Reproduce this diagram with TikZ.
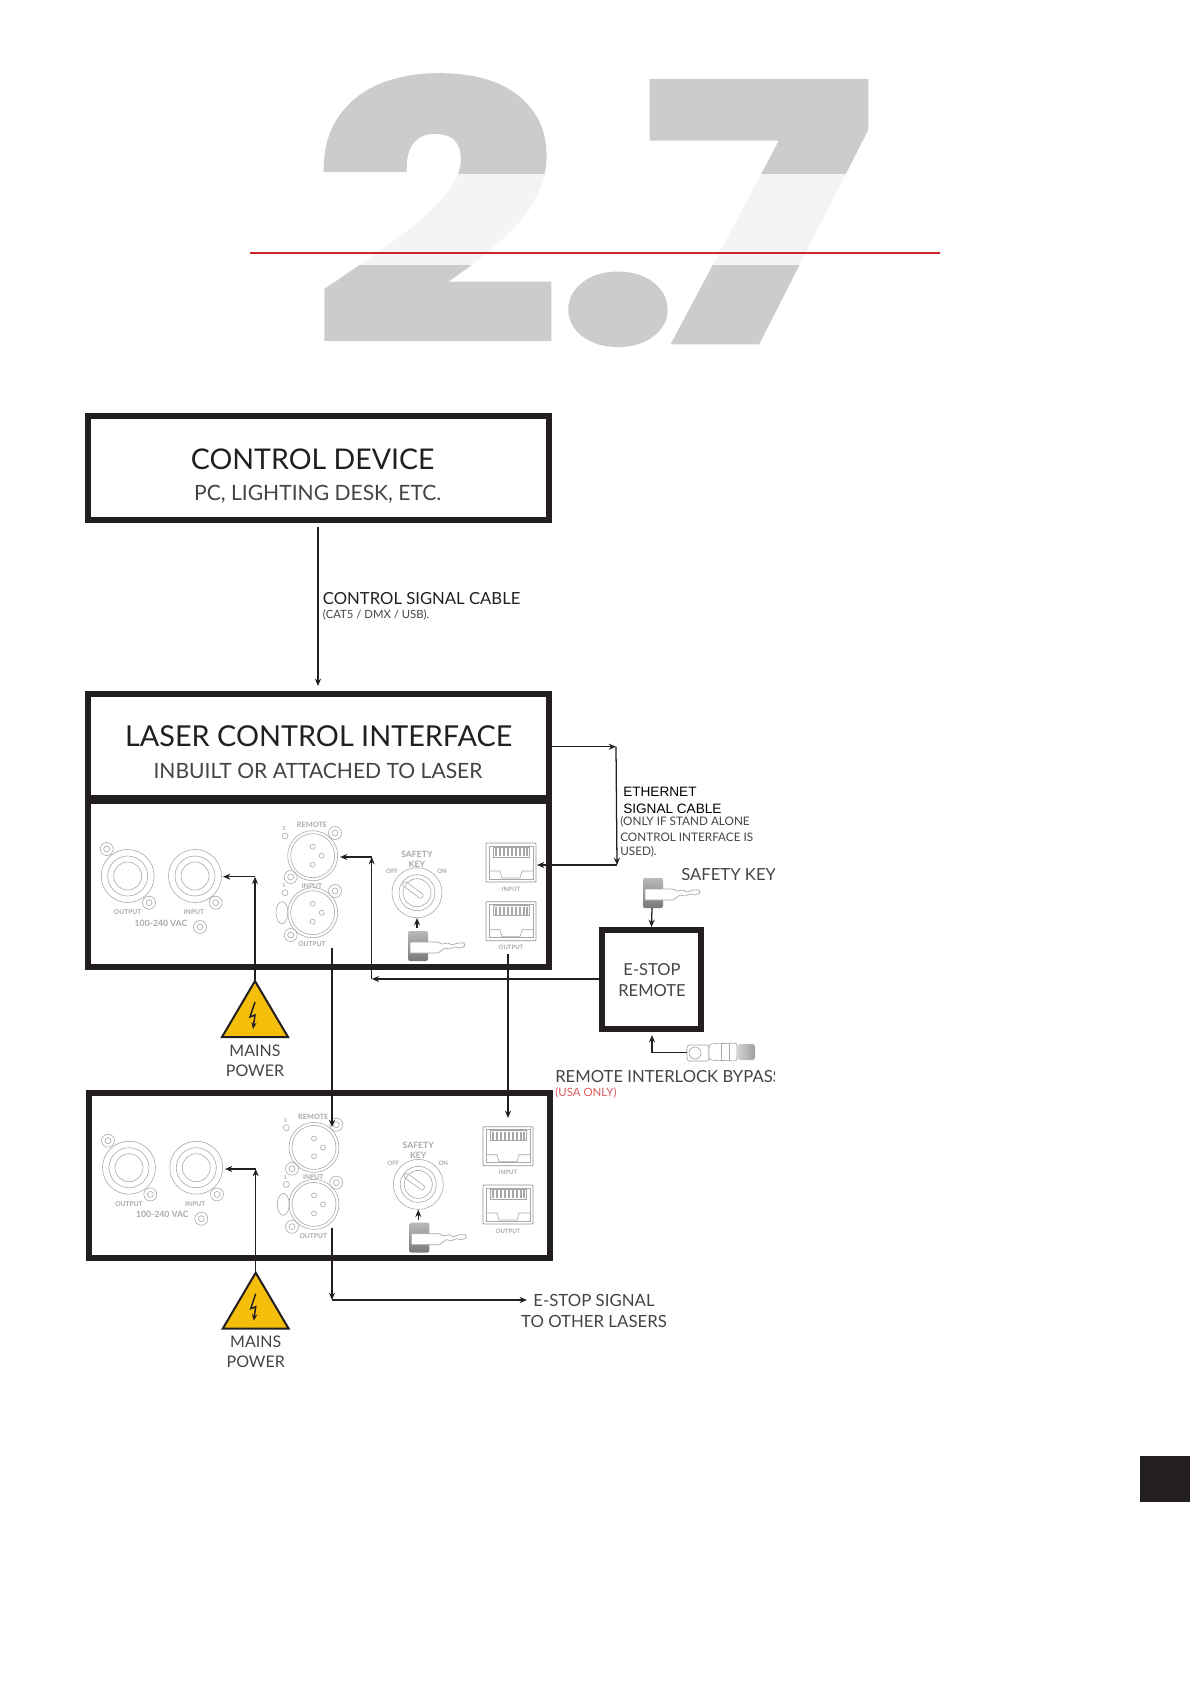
\documentclass[tikz,border=0pt]{standalone}
\usepackage{fontspec}
\setmainfont{Lato}
\newfontfamily\titlefont{Poppins}
\newfontfamily\arialfont{Liberation Sans}
\usetikzlibrary{arrows.meta, calc}
\definecolor{inkdark}{HTML}{231F20}
\definecolor{inksub}{HTML}{444444}
\definecolor{panelgrey}{HTML}{A8A8A8}
\definecolor{titlegrey}{HTML}{CCCCCC}
\definecolor{titlepale}{HTML}{F4F4F4}
\definecolor{rulered}{HTML}{D2232A}
\definecolor{warnyellow}{HTML}{F4BE0A}
\newcommand{\numeraltext}{\scalebox{1.22}[1]{\addfontfeature{FakeBold=3}2\kern0pt.\kern-20.7pt 7}}
\tikzset{
  frame/.style={draw=inkdark, line width=4.5pt, fill=none, inner sep=0pt},
  lab/.style={inner sep=0pt, text=inkdark, font=\fontsize{#1}{#1}\selectfont},
  sublab/.style={inner sep=0pt, text=inksub, font=\fontsize{#1}{#1}\selectfont},
  eth/.style={inner sep=0pt, text=black, font=\arialfont\fontsize{#1}{#1}\selectfont},
  tiny/.style={inner sep=0pt, text=panelgrey, font=\bfseries\fontsize{#1}{#1}\selectfont},
  numeral/.style={inner sep=0pt, anchor=base west, font=\titlefont\bfseries\fontsize{262}{262}\selectfont},
  cable/.style={draw=inkdark, line width=0.95pt},
  part/.style={draw=panelgrey, line width=0.45pt},
  pics/screw/.style={code={
    \draw[part] (0,0) circle (6.5);
    \draw[part] (0,0) circle (3);
  }},
  pics/neutrik/.style={code={
    \draw[part] (0,0) circle (26.5);
    \draw[part] (0,0) circle (20);
    \draw[part] (0,0) circle (14);
  }},
  pics/xlr/.style={code={
    \draw[part] (0,0) circle (25);
    \draw[part] (0,0) circle (22);
    \draw[part] (0,-9) circle (2.5);
    \draw[part] (9,0) circle (2.5);
    \draw[part] (0,9) circle (2.5);
  }},
  pics/carkey/.style={code={
    \shade[top color=gray!55, bottom color=gray!95!black, rounded corners=1.5pt] (0,0) rectangle (20,30);
    \draw[gray!70, fill=white, line width=0.5pt] (2,11) -- (30,11) -- (34,13) -- (40,12) -- (44,14) -- (50,12) -- (56,12) -- (57,15)
      -- (52,17) -- (47,16) -- (42,18) -- (37,17) -- (30,22) -- (2,22) -- cycle;
  }},
  pics/rjport/.style={code={
    \draw[draw=gray!85, line width=0.6pt, rounded corners=0.6pt] (0,0) rectangle (50,39);
    \draw[part] (3,3) -- (47,3) -- (47,36) -- (3,36) -- cycle;
    \draw[part] (7,4) rectangle (43,14);
    \foreach \xpin in {10,14,18,22,26,30,34,38,41} \draw[part, line width=0.8pt] (\xpin,5) -- (\xpin,13);
    \draw[part] (3,28) -- (14,28) -- (16,35) -- (34,35) -- (36,28) -- (47,28);
    \node[tiny=4.5] (-name) at (25,46) {#1};
  }},
  pics/plug/.style={code={
    \draw[gray!70, fill=white, line width=0.5pt, rounded corners=2pt] (0,3) rectangle (22,19);
    \draw[gray!70, fill=white, line width=0.5pt, rounded corners=2pt] (22,2) -- (50,1) -- (50,19) -- (22,18) -- cycle;
    \shade[left color=gray!35, right color=gray!75, rounded corners=2pt] (50,2) rectangle (68,18);
    \draw[gray!70, line width=0.5pt] (8,11) circle (6);
    \draw[gray!70, line width=0.5pt] (34,1) -- (34,19) (42,1) -- (42,19);
  }},
  pics/hazard/.style={code={
    \coordinate (-apex) at (0,0);
    \draw[fill=warnyellow, draw=inkdark, line width=1.5pt, line join=miter] (0,1) -- (33,57) -- (-33,57) -- cycle;
    \draw[inkdark, line width=1.1pt, -{Stealth[length=5pt,width=4pt]}] (0,22) -- (-5,37) -- (0,35) -- (-2,49);
  }},
  pics/laserpanel/.style={code={
    \pic at (127.7,876) {neutrik};
    \pic at (195,876) {neutrik};
    \pic at (106.7,849) {screw};
    \pic at (149,902.7) {screw};
    \pic at (215.7,902.7) {screw};
    \pic at (200,927) {screw};
    \node[tiny=5] (-outac) at (127.7,912) {OUTPUT};
    \node[tiny=5] (-inac) at (194,912) {INPUT};
    \node[tiny=6.5] (-vac) at (161,923) {100-240 VAC};
    \pic at (312.7,855.7) {xlr};
    \pic at (312.7,912.7) {xlr};
    \pic at (335,833) {screw};
    \pic at (290.7,877) {screw};
    \pic at (335,891) {screw};
    \pic at (290.7,935) {screw};
    \draw[part] (282,912.7) ellipse (6 and 11);
    \draw[part] (285,836) circle (3);
    \draw[part] (285,892.7) circle (3);
    \node[tiny=4] (-two) at (284,829) {2};
    \node[tiny=4] (-one) at (284,885.7) {1};
    \node[tiny=5.5] (-remote) at (312,825) {REMOTE};
    \node[tiny=5] (-inxlr) at (312,885.7) {INPUT};
    \node[tiny=5] (-outxlr) at (312,944) {OUTPUT};
    \draw[part] (417,892.7) circle (25);
    \draw[part] (417,892.7) circle (18);
    \draw[part] (417,892.7) circle (14);
    \draw[part, rounded corners=1pt] (402,885) -- (405,881) -- (424,895) -- (421,899) -- cycle;
    \node[tiny=6.5] (-safety) at (417,854) {SAFETY};
    \node[tiny=6.5] (-keyname) at (417,864) {KEY};
    \node[tiny=4.5] (-off) at (392,871.7) {OFF};
    \node[tiny=4.5] (-on) at (442,871.7) {ON};
    \pic at (408,931) {carkey};
    \draw[cable, ->] (417,928) -- (417,918);
  }},
}
\begin{document}
\begin{tikzpicture}[>={Stealth[length=5.5pt,width=4.5pt]}, x=0.75pt, y=-0.75pt]
  \useasboundingbox (0,0) rectangle (1191,1684);

  % section number, pale where the band crosses it
  \begin{scope}
    \clip (200,50) rectangle (1000,174);
    \node[numeral, text=titlegrey] (numtop) at (314,339) {\numeraltext};
  \end{scope}
  \begin{scope}
    \clip (200,174) rectangle (1000,265);
    \node[numeral, text=titlepale] (numband) at (314,339) {\numeraltext};
  \end{scope}
  \begin{scope}
    \clip (200,265) rectangle (1000,370);
    \node[numeral, text=titlegrey] (numlow) at (314,339) {\numeraltext};
  \end{scope}
  \coordinate (ruleL) at (250,252.5);
  \coordinate (ruleR) at (940,252.5);
  \draw[rulered, line width=1.5pt] (ruleL) -- (ruleR);

  % boxes
  \node[frame, minimum width=345.75pt, minimum height=78pt] (ctrlbox) at (318.5,468) {};
  \node[frame, minimum width=345.75pt, minimum height=78pt] (ifacebox) at (318.5,746) {};
  \node[frame, minimum width=345.75pt, minimum height=124pt] (laserA) at (318.5,884) {};
  \node[frame, minimum width=345.75pt, minimum height=124pt] (laserB) at (319.5,1175.5) {};
  \node[frame, minimum width=74.25pt, minimum height=74.25pt] (estop) at (651.5,979.5) {};

  \node[lab=21.4] (ctrltitle) at (312.7,459.5) {CONTROL DEVICE};
  \node[sublab=15.8] (ctrlsub) at (317.7,494) {PC, LIGHTING DESK, ETC.};
  \node[lab=21.6] (ifacetitle) at (318.7,736.5) {LASER CONTROL INTERFACE};
  \node[sublab=15.8] (ifacesub) at (318,770.5) {INBUILT OR ATTACHED TO LASER};
  \node[lab=12.5, anchor=west] (cablelab) at (322.7,599) {CONTROL SIGNAL CABLE};
  \node[sublab=8.5, anchor=west] (cablesub) at (322.7,615) {(CAT5 / DMX / USB).};
  \node[sublab=12.4] (estopA) at (652,970) {E-STOP};
  \node[sublab=12.4] (estopB) at (652,990.7) {REMOTE};

  % panels
  \pic (panelA) at (0,0) {laserpanel};
  \pic (panelB) at (1.3,291.7) {laserpanel};
  \pic (rjAin) at (486,843) {rjport={INPUT}};
  \pic (rjAout) at (486,901.7) {rjport={OUTPUT}};
  \pic (rjBin) at (483,1126.7) {rjport={INPUT}};
  \pic (rjBout) at (483,1185) {rjport={OUTPUT}};

  % control and ethernet cables
  \draw[cable, ->] (318,527) -- (318,686);
  \coordinate (ethbendA) at (616,746.7);
  \coordinate (ethbendB) at (617,865);
  \coordinate (ethin) at (537,865);
  \draw[cable, ->] (ifacebox.east |- ethbendA) -- (ethbendA);
  \draw[cable, ->] (ethbendA) -- (ethbendB);
  \draw[cable, ->] (ethbendB) -- (ethin);
  \node[eth=10.2, anchor=west] (ethA) at (623,792) {ETHERNET};
  \node[eth=10.2, anchor=west] (ethB) at (623,808.7) {SIGNAL CABLE};
  \node[sublab=8.8, anchor=west] (ethC) at (620,822) {(ONLY IF STAND ALONE};
  \node[sublab=8.8, anchor=west] (ethD) at (620,837) {CONTROL INTERFACE IS};
  \node[sublab=8.8, anchor=west] (ethE) at (620,852) {USED).};

  % e-stop wiring
  \coordinate (remotebendA) at (371.7,979);
  \coordinate (remotebendB) at (371.7,857);
  \coordinate (remoteport) at (340,857);
  \draw[cable, ->] (estop.west |- remotebendA) -- (remotebendA);
  \draw[cable, ->] (remotebendA) -- (remotebendB);
  \draw[cable, ->] (remotebendB) -- (remoteport);
  \draw[cable, ->] (332,948) -- (332,1127);
  \draw[cable, ->] (508,954) -- (508,1118);
  \pic (estopkey) at (643,878) {carkey};
  \draw[cable, ->] (652,908) -- (estop.north);
  \pic (bypass) at (687,1042) {plug};
  \coordinate (bypassbend) at (652,1052.7);
  \draw[cable] (687,1052.7) -- (bypassbend);
  \draw[cable, ->] (bypassbend) -- (652,1035);
  \begin{scope}
    \clip (500,860) rectangle (774,1100);
    \node[sublab=12.5, anchor=west] (keylab) at (681,875) {SAFETY KEY};
    \node[sublab=12.5, anchor=west] (bypasslab) at (555,1076.7) {REMOTE INTERLOCK BYPASS};
  \end{scope}
  \node[inner sep=0pt, anchor=west, text=rulered!75, font=\fontsize{8.6}{8.6}\selectfont] (usalab) at (555,1093) {(USA ONLY)};

  % mains
  \pic (mainsA) at (255,980) {hazard};
  \coordinate (mainsbendA) at (255,876.7);
  \coordinate (mainsinA) at (223,876.7);
  \draw[cable, ->] (mainsA-apex) -- (mainsbendA);
  \draw[cable, ->] (mainsbendA) -- (mainsinA);
  \node[sublab=12] (mainsAa) at (255,1050.7) {MAINS};
  \node[sublab=12] (mainsAb) at (255,1071) {POWER};
  \pic (mainsB) at (255.7,1271.7) {hazard};
  \coordinate (mainsbendB) at (255.7,1169);
  \coordinate (mainsinB) at (225,1169);
  \draw[cable, ->] (mainsB-apex) -- (mainsbendB);
  \draw[cable, ->] (mainsbendB) -- (mainsinB);
  \node[sublab=12] (mainsBa) at (255.7,1341.7) {MAINS};
  \node[sublab=12] (mainsBb) at (255.7,1362) {POWER};

  % to the next laser
  \coordinate (signalbend) at (332,1300);
  \coordinate (signalend) at (527,1300);
  \draw[cable, ->] (332,1228) -- (signalbend);
  \draw[cable, ->] (signalbend) -- (signalend);
  \node[sublab=12.6] (signalA) at (594,1300) {E-STOP SIGNAL};
  \node[sublab=12.6] (signalB) at (594,1321) {TO OTHER LASERS};

  \fill[inkdark] (1140,1456) rectangle (1190,1502);
\end{tikzpicture}
\end{document}
